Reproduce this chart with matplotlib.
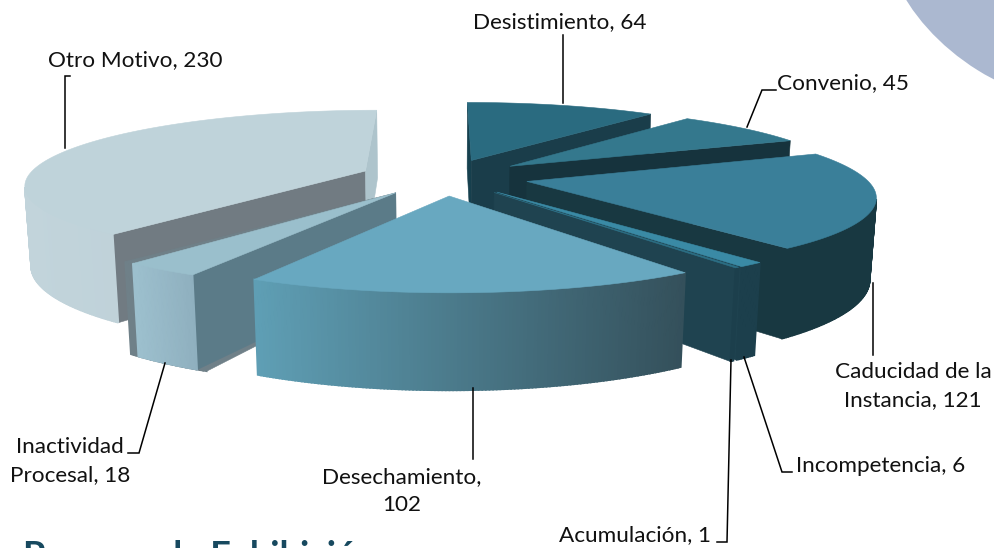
import numpy as np
import matplotlib
matplotlib.use('Agg')
import matplotlib.pyplot as plt
from matplotlib.colors import to_rgb
from matplotlib.patches import Ellipse, Polygon

plt.rcParams['font.family'] = ['Lato', 'DejaVu Sans']

# clockwise from 12 o'clock
names = ['Desistimiento', 'Convenio', 'Caducidad de la Instancia', 'Incompetencia',
         'Acumulación', 'Desechamiento', 'Inactividad Procesal', 'Otro Motivo']
values = [64, 45, 121, 6, 1, 102, 18, 230]
top_colors = ['#2a6b80', '#34788d', '#3a7f99', '#3a8aa5', '#2c6f85', '#68a8c0', '#9abfcc', '#bfd3da']
rim_left = ['#1a3d4a', '#16333d', '#183841', '#1c3f4c', '#1c3f4c', '#5f9fb5', '#9dc0ce', '#c2d4db']
rim_right = ['#1a3d4a', '#16333d', '#183841', '#1c3f4c', '#1c3f4c', '#34505b', '#8fb0bf', '#b8ccd4']
wall_start = ['#16404e', '#16333d', '#183841', '#1f4350', '#1f4350', '#36505a', '#5b7b88', '#717b82']
wall_end = ['#1a3d4a', '#16333d', '#183841', '#1f4350', '#1f4350', '#36505a', '#5b7b88', '#aec4cc']

# view of the pie, in pixels of the picture
cx, cy = 444, 177
rx, ry = 338, 73
height = 80
tilt = 0.17
shrink = 0.015
explode = 0.25


def project(x, y, z):
    p = 1.0 / (1 + tilt * y + shrink * z)
    return cx + rx * x * p, cy - ry * y * p + height * z * p


def area(pts):
    a = np.array(pts)
    x, y = a[:, 0], a[:, 1]
    return 0.5 * np.sum(x * np.roll(y, -1) - np.roll(x, -1) * y)


def draw_face(ax, pts, color, lw=0.4):
    if area(pts) > 0:
        ax.add_patch(Polygon(pts, closed=True, facecolor=color, edgecolor=color, lw=lw))


def draw_slice(ax, a1, a2, top, left, right, w1, w2, pad=0.0):
    mid = np.radians((a1 + a2) / 2)
    ox, oy = explode * np.sin(mid), explode * np.cos(mid)
    angles = np.radians(np.linspace(a1 - pad, a2 + pad, max(3, int(a2 - a1) * 2 + 3)))
    xs = ox + np.sin(angles)
    ys = oy + np.cos(angles)
    top_rim = [project(x, y, 0) for x, y in zip(xs, ys)]
    bot_rim = [project(x, y, 1) for x, y in zip(xs, ys)]
    apex_top = project(ox, oy, 0)
    apex_bot = project(ox, oy, 1)
    draw_face(ax, [top_rim[0], apex_top, apex_bot, bot_rim[0]], w1)
    draw_face(ax, [apex_top, top_rim[-1], bot_rim[-1], apex_bot], w2)
    sx = [p[0] for p in top_rim]
    left_rgb, right_rgb = np.array(to_rgb(left)), np.array(to_rgb(right))
    for i in range(len(top_rim) - 1):
        f = (top_rim[i][0] - min(sx)) / max(max(sx) - min(sx), 1)
        draw_face(ax, [top_rim[i + 1], top_rim[i], bot_rim[i], bot_rim[i + 1]],
                  tuple(left_rgb + (right_rgb - left_rgb) * f), lw=1.2)
    ax.add_patch(Polygon([apex_top] + top_rim, closed=True, facecolor=top, edgecolor=top, lw=0.4))


fig = plt.figure(figsize=(9.94, 5.48), dpi=100)
ax = fig.add_axes([0, 0, 1, 1])
ax.set_xlim(0, 994)
ax.set_ylim(548, 0)
ax.axis('off')

# corner of the slide's background shape
ax.add_patch(Ellipse((1040, -30), 338, 236, angle=32, facecolor='#abb8d0', edgecolor='none'))

total = sum(values)
ends = np.cumsum(values) / total * 360
starts = ends - np.array(values) / total * 360
for i in [0, 1, 2, 3, 4, 7, 6, 5]:
    if i == 6:
        # grey edge showing round the small slice
        draw_slice(ax, starts[i], ends[i], '#6f8088', '#6f8088', '#6f8088', '#6f8088', '#5b7b88', pad=1.6)
    draw_slice(ax, starts[i], ends[i], top_colors[i], rim_left[i], rim_right[i], wall_start[i], wall_end[i])

labels = [
    ('Desistimiento, 64', 560, 22),
    ('Otro Motivo, 230', 135, 60),
    ('Convenio, 45', 843, 83),
    ('Caducidad de la\nInstancia, 121', 913, 386),
    ('Incompetencia, 6', 881, 466),
    ('Acumulación, 1', 635, 535),
    ('Desechamiento,\n102', 402, 491),
    ('Inactividad\nProcesal, 18', 70, 461),
]
for text, x, y in labels:
    ax.text(x, y, text, ha='center', va='center', fontsize=16.2, color='#111111', linespacing=1.5)

leaders = [
    ([563, 563], [35, 103]),
    ([70, 65, 65], [76, 76, 148]),
    ([776, 762, 747], [90, 90, 127]),
    ([873, 873], [283, 355]),
    ([744, 782, 792], [357, 472, 472]),
    ([731, 727, 717], [360, 542, 542]),
    ([473, 473], [388, 459]),
    ([165, 139, 128], [363, 453, 453]),
]
for xs, ys in leaders:
    ax.plot(xs, ys, color='black', lw=1.1, solid_joinstyle='miter')

ax.text(23, 540, 'Proceso de Exhibición', ha='left', va='top', fontsize=26,
        fontweight='bold', color='#17495f', clip_on=True)

fig.savefig('out.png', dpi=100)
